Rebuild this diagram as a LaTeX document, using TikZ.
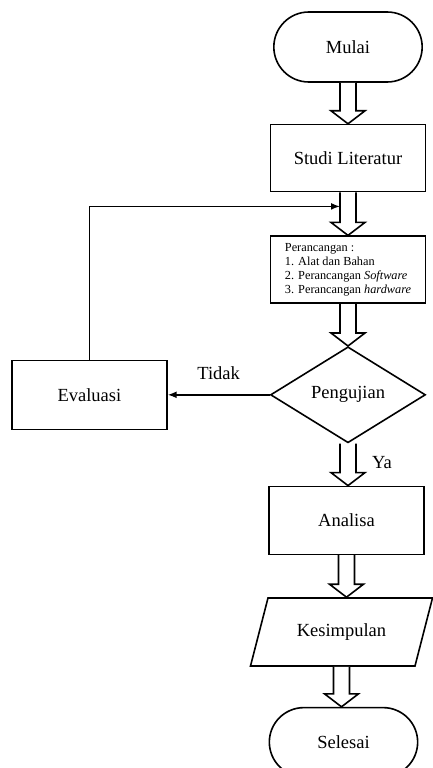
\documentclass[tikz,border=0pt]{standalone}
\usepackage{fontspec}
\setmainfont{Liberation Serif}
\usetikzlibrary{arrows.meta,positioning,shapes.geometric,shapes.misc,calc}
\tikzset{
  term/.style={draw,rounded rectangle,line width=1.6pt,minimum width=155pt,
               minimum height=70pt,font=\fontsize{18.5}{22}\selectfont},
  box/.style={draw,rectangle,line width=1.6pt,minimum width=155pt,
              minimum height=67pt,align=left,font=\fontsize{18.5}{22}\selectfont},
  dec/.style={draw,diamond,aspect=1.6,line width=1.6pt,minimum width=155pt,
              minimum height=96pt,inner sep=0pt,font=\fontsize{18.5}{22}\selectfont},
  io/.style={draw,trapezium,trapezium left angle=64,trapezium right angle=116,
             trapezium stretches=true,line width=1.6pt,minimum width=182pt,
             minimum height=68pt,font=\fontsize{18.5}{22}\selectfont},
  hol/.style={draw,line width=1.6pt,fill=white},
  ar/.style={-{Latex[length=9pt,width=7pt]},line width=1.6pt},
  lab/.style={font=\fontsize{18.5}{22}\selectfont,inner sep=2pt},
}
% hollow block arrow from the bottom of #1 to the top of #2
\newcommand{\holarrow}[2]{%
  \draw[hol] ($(#1.south)+(-8pt,0)$) -- ($(#1.south |- #2.north)+(-8pt,13pt)$)
    -- ($(#1.south |- #2.north)+(-17pt,13pt)$) -- (#1.south |- #2.north)
    -- ($(#1.south |- #2.north)+(17pt,13pt)$) -- ($(#1.south |- #2.north)+(8pt,13pt)$)
    -- ($(#1.south)+(8pt,0)$);}

\begin{document}
\begin{tikzpicture}[node distance=42pt and 102pt]
    \useasboundingbox (-348pt,47pt) rectangle (85pt,-721pt);
    \node[term] (mulai) {Mulai};
    \node[box,below=41pt of mulai] (studi) {Studi Literatur};
    \node[box,below=43pt of studi,font=\fontsize{12.3}{14}\selectfont] (rancang)
      {Perancangan :\\1. Alat dan Bahan\\2. Perancangan \textit{Software}\\3. Perancangan \textit{hardware}};
    \node[dec,below=of rancang] (uji) {Pengujian};
    \node[box,left=of uji,minimum height=69pt] (eval) {Evaluasi};
    \node[box,below=of uji,xshift=-1.5pt,minimum height=68pt] (analisa) {Analisa};
    \node[io,below=of analisa,xshift=-5pt] (simpul) {Kesimpulan};
    \node[term,below=40pt of simpul,xshift=2pt,minimum height=69pt] (selesai) {Selesai};
    \holarrow{mulai}{studi}
    \holarrow{studi}{rancang}
    \holarrow{rancang}{uji}
    \holarrow{uji}{analisa}
    \holarrow{analisa}{simpul}
    \holarrow{simpul}{selesai}
    \coordinate (masuk) at ($(studi.south)+(-8pt,-14pt)$);
    \draw[ar] (uji.west) -- node[lab,above=12pt]{Tidak} (eval.east);
    \draw[ar] (eval.north) |- (masuk);
    \node[lab] (ya) at ($(uji.south)+(34pt,-19pt)$) {Ya};
\end{tikzpicture}
\end{document}
